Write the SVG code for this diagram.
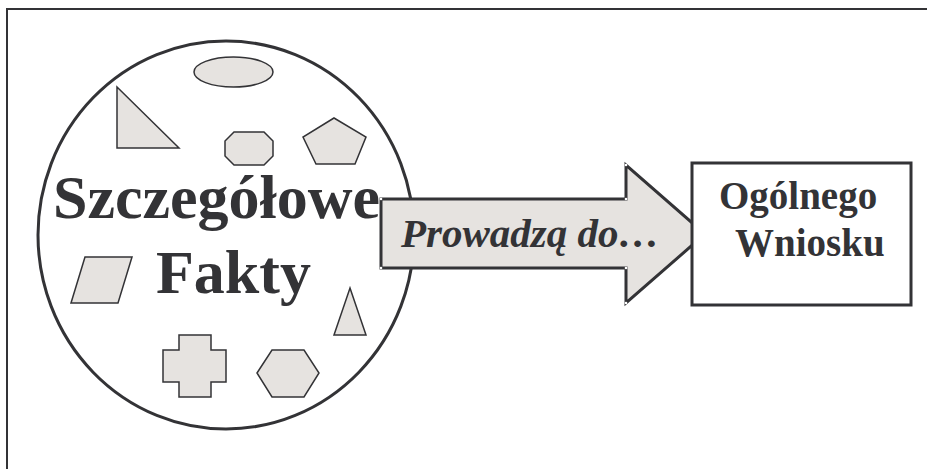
<svg xmlns="http://www.w3.org/2000/svg" width="927" height="469" viewBox="0 0 927 469">
  <style>
    .frame { fill: none; stroke: #333336; stroke-width: 2; }
    .outline { fill: #ffffff; stroke: #333336; stroke-width: 3; }
    .shape { fill: #e6e3e0; stroke: #333336; stroke-width: 1.5; stroke-linejoin: miter; }
    .arrow { fill: #e6e3e0; stroke: #333336; stroke-width: 3; stroke-linejoin: miter; }
    .handle { fill: #ffffff; stroke: none; }
    .t { font-family: "Liberation Serif", "Times New Roman", serif; font-weight: bold; fill: #333336; }
    .big { font-size: 62px; }
    .mid { font-size: 41px; font-style: italic; }
    .box { font-size: 39px; }
  </style>
  <path class="frame" d="M7,469 V9 H927"/>

  <g id="facts">
    <ellipse class="outline" cx="226" cy="235" rx="188" ry="194"/>
    <ellipse class="shape" cx="233.5" cy="72" rx="39.5" ry="15"/>
    <polygon class="shape" points="117,87 117,148 179,148"/>
    <polygon class="shape" points="234,132 264,132 273,141 273,156 264,165 234,165 225,156 225,141"/>
    <polygon class="shape" points="334,118 366,137 355,164 316,164 303,137"/>
    <polygon class="shape" points="85,257 132,257 118,303 71,303"/>
    <polygon class="shape" points="350,288 366,335 334,335"/>
    <polygon class="shape" points="179,335 211,335 211,350 226,350 226,382 211,382 211,397 179,397 179,382 163,382 163,350 179,350"/>
    <polygon class="shape" points="257,373 272,350 304,350 319,373 304,397 272,397"/>
    <text class="t big" x="53" y="218">Szczegółowe</text>
    <text class="t big" x="156" y="293">Fakty</text>
  </g>

  <g id="connectors">
    <polygon class="arrow" points="381,199 626,199 626,165 705,234 626,303 626,268 381,268"/>
    <g class="handle">
      <circle cx="381" cy="199" r="1.3"/>
      <circle cx="626" cy="199" r="1.3"/>
      <circle cx="626" cy="165" r="1.3"/>
      <circle cx="705" cy="234" r="1.3"/>
      <circle cx="626" cy="303" r="1.3"/>
      <circle cx="626" cy="268" r="1.3"/>
      <circle cx="381" cy="268" r="1.3"/>
    </g>
    <text class="t mid" x="401" y="247">Prowadzą do…</text>
  </g>

  <g id="conclusion">
    <rect class="outline" x="692" y="163" width="219" height="142"/>
    <text class="t box" x="719" y="209">Ogólnego</text>
    <text class="t box" x="735" y="256">Wniosku</text>
  </g>
</svg>
